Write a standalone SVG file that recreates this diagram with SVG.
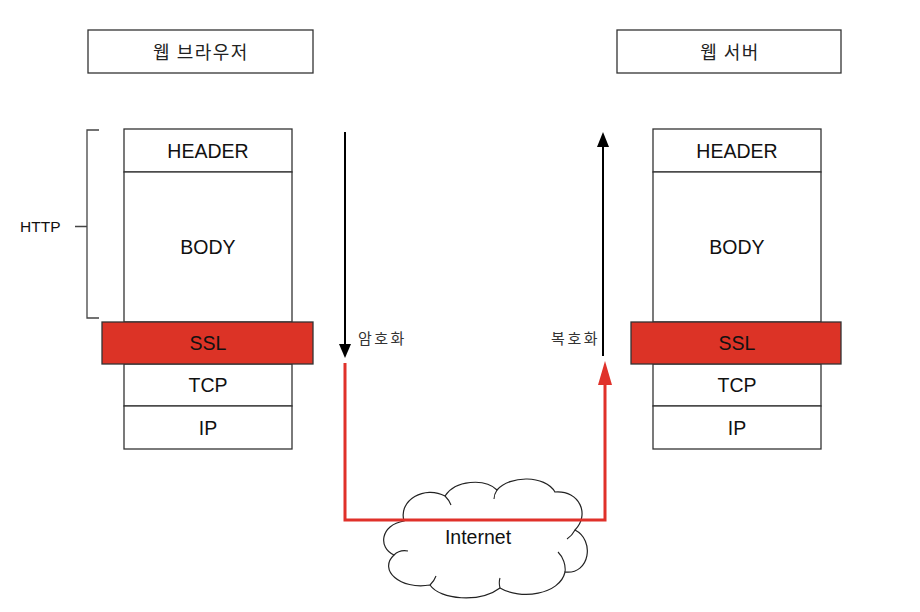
<svg xmlns="http://www.w3.org/2000/svg" width="920" height="612" viewBox="0 0 920 612">
<style>
.box{fill:#fff;stroke:#333;stroke-width:1.3}
.ssl{fill:#dc3326;stroke:#333;stroke-width:1.3}
.t{font-family:"Liberation Sans",Arial,sans-serif;font-size:19.5px;fill:#111;text-anchor:middle;dominant-baseline:central}
.k{font-family:"Noto Sans CJK KR","Liberation Sans",sans-serif;font-size:18px;letter-spacing:1.5px;fill:#222;text-anchor:middle;dominant-baseline:central}
.ks{font-family:"Noto Sans CJK KR","Liberation Sans",sans-serif;font-size:15px;letter-spacing:2.5px;fill:#333;dominant-baseline:central}
.s{font-family:"Liberation Sans",Arial,sans-serif;font-size:15.5px;fill:#111;dominant-baseline:central}
.tick{fill:none;stroke:#222;stroke-width:1.1}
</style>
<rect width="920" height="612" fill="#fff"/>
<g id="browser-title"><rect class="box" x="88" y="30" width="225" height="43"/><text class="k" x="201" y="51">웹 브라우저</text></g>
<g id="server-title"><rect class="box" x="617" y="30" width="224" height="43"/><text class="k" x="730" y="51">웹 서버</text></g>

<g id="left-stack">
<rect class="box" x="124" y="129" width="168" height="43"/><text class="t" x="208" y="151">HEADER</text>
<rect class="box" x="124" y="172" width="168" height="150"/><text class="t" x="208" y="247">BODY</text>
<rect class="box" x="124" y="364" width="168" height="42"/><text class="t" x="208" y="385">TCP</text>
<rect class="box" x="124" y="406" width="168" height="43"/><text class="t" x="208" y="428">IP</text>
<rect class="ssl" x="102" y="322" width="211" height="42"/><text class="t" x="208" y="343">SSL</text>
</g>
<g id="right-stack">
<rect class="box" x="653" y="129" width="168" height="43"/><text class="t" x="737" y="151">HEADER</text>
<rect class="box" x="653" y="172" width="168" height="150"/><text class="t" x="737" y="247">BODY</text>
<rect class="box" x="653" y="364" width="168" height="42"/><text class="t" x="737" y="385">TCP</text>
<rect class="box" x="653" y="406" width="168" height="43"/><text class="t" x="737" y="428">IP</text>
<rect class="ssl" x="631" y="322" width="210" height="42"/><text class="t" x="737" y="343">SSL</text>
</g>

<g id="http-brace">
<path d="M99 130 H87 V318 H99 M75 226.5 H87" fill="none" stroke="#444" stroke-width="1.3"/>
<text class="s" x="20" y="226">HTTP</text>
</g>

<g id="internet">
<path d="M404 521 C398 500 425 485 445 496 C455 480 485 478 497 490 C510 475 545 475 555 492 C580 490 590 515 575 530 C595 540 590 575 565 572 C560 595 520 600 500 588 C480 603 440 600 430 585 C400 590 378 570 394 555 C378 548 380 525 404 521 Z" fill="#fff" stroke="#222" stroke-width="1.2"/>
<path class="tick" d="M394 555 C398 551 403 550 408 551 M445 496 C448 499 450 502 451 505 M497 490 C495 493 494 496 494 499 M575 530 C573 534 570 537 567 539 M565 572 C566 565 563 557 558 552 M430 585 C433 582 435 579 436 576 M500 588 C499 584 499 581 500 578"/>
<text class="t" x="478" y="537">Internet</text>
</g>

<g id="connectors">
<line x1="345" y1="132" x2="345" y2="346" stroke="#000" stroke-width="2"/>
<polygon points="339,344 351,344 345,358" fill="#000"/>
<line x1="603" y1="146" x2="603" y2="356" stroke="#000" stroke-width="2"/>
<polygon points="597,147 609,147 603,132" fill="#000"/>
<path d="M345 363 V520 H605 V382" fill="none" stroke="#e0312a" stroke-width="3"/>
<polygon points="598,385 612,385 605,361" fill="#e0312a"/>
<text class="ks" x="358" y="337">암호화</text>
<text class="ks" x="600" y="337" text-anchor="end">복호화</text>
</g>
</svg>
